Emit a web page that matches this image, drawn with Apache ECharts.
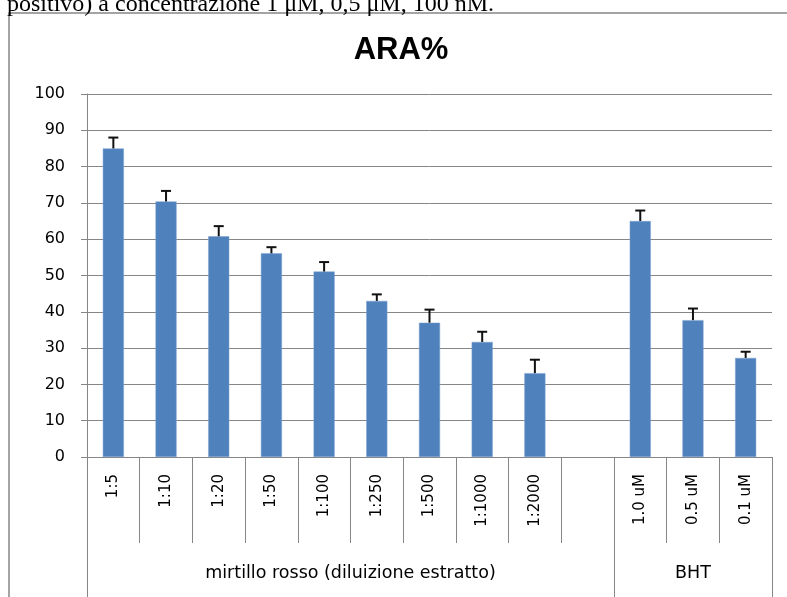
<!DOCTYPE html>
<html>
<head>
<meta charset="utf-8">
<script src="https://cdn.jsdelivr.net/npm/echarts@6/dist/echarts.min.js"></script>
<style>
  html, body { margin: 0; padding: 0; background: #fff; }
  #chart { width: 787px; height: 597px; }
</style>
</head>
<body>
<div id="chart"></div>
<script>
// ---- data ----
const categories = ['1:5', '1:10', '1:20', '1:50', '1:100', '1:250', '1:500', '1:1000', '1:2000', '', '1.0 uM', '0.5 uM', '0.1 uM'];
const meanValues = [85.0, 70.4, 60.8, 56.1, 51.1, 43.0, 37.0, 31.7, 23.1, null, 65.0, 37.7, 27.3];
const errorPlus  = [3.0, 2.9, 2.8, 1.7, 2.6, 1.8, 3.6, 2.8, 3.7, null, 2.9, 3.2, 1.7];
const groupNames = ['mirtillo rosso (diluizione estratto)', 'BHT'];
const groupSpans = [10, 3];
const yTicks = { min: 0, max: 100, interval: 10 };
const chartTitle = 'ARA%';
const pageText = 'positivo) a concentrazione 1 μM, 0,5 μM, 100 nM.';

const GRAY = '#868686';
const FONT = 'DejaVu Sans';

const errData = [];
categories.forEach((c, i) => {
  if (meanValues[i] != null) errData.push([i, meanValues[i], meanValues[i] + errorPlus[i]]);
});

const chart = echarts.init(document.getElementById('chart'), null, { renderer: 'canvas' });

const option = {
  animation: false,
  backgroundColor: '#fff',
  grid: { left: 87, right: 15, top: 94, bottom: 140 },
  xAxis: {
    type: 'category',
    data: categories,
    boundaryGap: true,
    axisLine: { show: true, lineStyle: { color: GRAY, width: 1 } },
    axisTick: { show: true, interval: 0, length: 86, lineStyle: { color: GRAY, width: 1 } },
    axisLabel: { interval: 0, rotate: 90, margin: 17, fontFamily: FONT, fontSize: 15, color: '#000' }
  },
  yAxis: {
    type: 'value',
    min: yTicks.min, max: yTicks.max, interval: yTicks.interval,
    axisLine: { show: true, lineStyle: { color: GRAY, width: 1 } },
    axisTick: { show: true, length: 6, lineStyle: { color: GRAY, width: 1 } },
    axisLabel: { margin: 22, fontFamily: FONT, fontSize: 16, color: '#000' },
    splitLine: { show: true, lineStyle: { color: GRAY, width: 1 } }
  },
  series: [
    {
      type: 'bar',
      data: meanValues,
      barWidth: '40%',
      itemStyle: { color: '#4F81BD', borderColor: '#7FA3D1', borderWidth: 0.5 },
      z: 2
    },
    {
      type: 'custom',
      data: errData,
      z: 3,
      renderItem: function (params, api) {
        const bottom = api.coord([api.value(0), api.value(1)]);
        const top = api.coord([api.value(0), api.value(2)]);
        const cap = 5;
        return {
          type: 'group',
          children: [
            { type: 'line', shape: { x1: top[0], y1: bottom[1], x2: top[0], y2: top[1] },
              style: { stroke: '#111', lineWidth: 2 } },
            { type: 'line', shape: { x1: top[0] - cap, y1: top[1], x2: top[0] + cap, y2: top[1] },
              style: { stroke: '#111', lineWidth: 2 } }
          ]
        };
      }
    }
  ]
};
chart.setOption(option);

// ---- extra decorations positioned via the library's scales ----
const px = i => chart.convertToPixel({ xAxisIndex: 0 }, i);
const band = px(1) - px(0);
const boundary = i => px(0) - band / 2 + i * band;
const y0 = chart.convertToPixel({ yAxisIndex: 0 }, 0);

const graphics = [
  { type: 'rect', z: -1, silent: true,
    shape: { x: 9, y: 13, width: 900, height: 800 },
    style: { fill: null, stroke: GRAY, lineWidth: 1.5 } },
  { type: 'text', x: 7, y: 17, silent: true,
    style: { text: pageText, font: '24px "Liberation Serif"', fill: '#000', verticalAlign: 'bottom', align: 'left' } },
  { type: 'text', x: 401, y: 50, silent: true,
    style: { text: chartTitle, font: 'bold 31px "Liberation Sans"', fill: '#000', verticalAlign: 'middle', align: 'center' } }
];

let start = 0;
const bounds = [0];
groupSpans.forEach((span, g) => {
  const end = start + span;
  bounds.push(end);
  const cx = (boundary(start) + boundary(end)) / 2;
  graphics.push({ type: 'text', x: cx, y: 573, silent: true,
    style: { text: groupNames[g], font: '17.5px "DejaVu Sans"', fill: '#000', verticalAlign: 'middle', align: 'center' } });
  start = end;
});
bounds.forEach(b => {
  const x = Math.round(boundary(b)) + 0.5;
  graphics.push({ type: 'line', silent: true,
    shape: { x1: x, y1: y0, x2: x, y2: 620 },
    style: { stroke: GRAY, lineWidth: 1 } });
});

chart.setOption({ graphic: graphics });
</script>
</body>
</html>
